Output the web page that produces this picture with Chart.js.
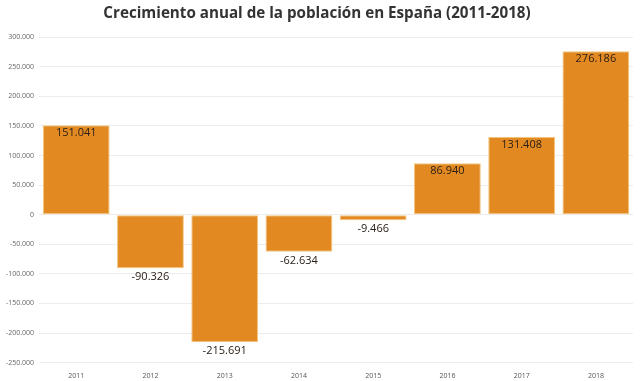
<!DOCTYPE html>
<html>
<head>
<meta charset="utf-8">
<script src="https://cdn.jsdelivr.net/npm/chart.js@4/dist/chart.umd.min.js"></script>
<style>
  html, body { margin: 0; padding: 0; background: #fff; }
  #wrap { width: 640px; height: 381px; }
</style>
</head>
<body>
<div id="wrap"><canvas id="chart"></canvas></div>
<script>
// data
const YEARS = ['2011', '2012', '2013', '2014', '2015', '2016', '2017', '2018'];
const GROWTH = [151041, -90326, -215691, -62634, -9466, 86940, 131408, 276186];

const BAR_ORANGE = '#e28a21';
const LABEL_DARK = '#2b2018';

const fmt = v => {
  const s = Math.abs(v).toString().replace(/\B(?=(\d{3})+(?!\d))/g, '.');
  return (v < 0 ? '-' : '') + s;
};

// value labels: inside top for positives, below bar for negatives
const valueLabels = {
  id: 'valueLabels',
  afterDatasetsDraw(chart) {
    const ctx = chart.ctx;
    const meta = chart.getDatasetMeta(0);
    ctx.save();
    ctx.font = '11px "Open Sans", sans-serif';
    ctx.fillStyle = LABEL_DARK;
    ctx.textAlign = 'center';
    ctx.textBaseline = 'middle';
    meta.data.forEach((bar, i) => {
      const v = GROWTH[i];
      const y = v >= 0 ? bar.y + 8 : bar.y + 9;
      ctx.fillText(fmt(v), bar.x, y);
    });
    ctx.restore();
  }
};

new Chart(document.getElementById('chart'), {
  type: 'bar',
  data: {
    labels: YEARS,
    datasets: [{
      data: GROWTH,
      backgroundColor: BAR_ORANGE,
      borderColor: '#f3c47c',
      borderWidth: 1,
      borderSkipped: false,
      barPercentage: 0.9,
      categoryPercentage: 1.0
    }]
  },
  options: {
    responsive: true,
    maintainAspectRatio: false,
    animation: false,
    layout: { padding: { left: 1, right: 7, top: 0, bottom: 0 } },
    plugins: {
      legend: { display: false },
      tooltip: { enabled: false },
      title: {
        display: true,
        text: 'Crecimiento anual de la población en España (2011-2018)',
        color: '#333',
        font: { family: '"Open Sans", sans-serif', size: 15.2, weight: 'bold' },
        padding: { top: 5, bottom: 14 }
      }
    },
    scales: {
      y: {
        min: -250000,
        max: 300000,
        ticks: {
          stepSize: 50000,
          color: '#666',
          font: { family: '"Open Sans", sans-serif', size: 7 },
          padding: 5,
          callback: v => fmt(v)
        },
        grid: { color: '#ececec', drawTicks: false },
        border: { display: false }
      },
      x: {
        ticks: {
          color: '#555',
          font: { family: '"Open Sans", sans-serif', size: 7 },
          padding: 1
        },
        grid: { display: false },
        border: { display: false }
      }
    }
  },
  plugins: [valueLabels]
});
</script>
</body>
</html>
